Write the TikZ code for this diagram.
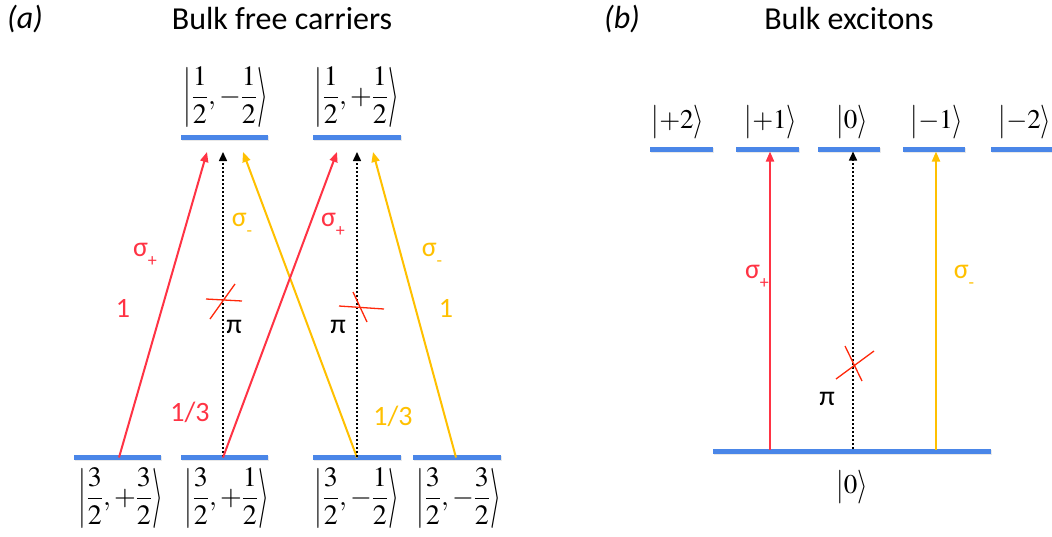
\documentclass[tikz,border=0pt]{standalone}
\usepackage{amsmath}
\usepackage{mathptmx}
\usepackage{graphicx}
\usepackage{fontspec}
\setmainfont{Carlito}
\usetikzlibrary{arrows.meta,calc,shadows}
\definecolor{barblue}{RGB}{74,134,232}
\definecolor{rd}{RGB}{255,51,68}
\definecolor{yl}{RGB}{255,192,0}
\definecolor{xr}{RGB}{255,40,10}
\newcommand{\ketfont}{\fontsize{28}{33}\selectfont}
\newcommand{\sketfont}{\fontsize{27}{32}\selectfont}
\newcommand{\labfont}{\fontsize{28}{32}\selectfont}
\newcommand{\ttlfont}{\fontsize{32}{38}\selectfont}
\newcommand{\sgp}{σ\raisebox{-0.35em}{\fontsize{18}{18}\selectfont +}}
\newcommand{\sgm}{σ\raisebox{-0.35em}{\fontsize{18}{18}\selectfont -}}
\newcommand{\stretchsym}[2]{\mathord{\vcenter{\hbox{\scalebox{1}[#1]{$#2$}}}}}
\newcommand{\fket}[1]{\stretchsym{2.15}{|}#1\stretchsym{2.15}{\rangle}}
\newcommand{\sket}[1]{\stretchsym{1.25}{|}#1\stretchsym{1.25}{\rangle}}
\tikzset{
  lvl/.style={fill=barblue, draw=none, minimum height=5pt, inner sep=0pt, outer sep=0pt,
    drop shadow={opacity=0.18, shadow xshift=0.8pt, shadow yshift=-1.5pt}},
  trans/.style={line width=2pt, -{Triangle[length=10pt,width=8pt]}},
  pitr/.style={line width=1.5pt, dash pattern=on 1.3pt off 2.7pt, -{Triangle[length=9pt,width=8pt]}},
  ket/.style={font=\ketfont, inner sep=0pt},
  sketst/.style={font=\sketfont, inner sep=0pt},
  lab/.style={font=\labfont, inner sep=0pt},
  ttl/.style={font=\ttlfont, inner sep=0pt},
  xmark/.style={draw=xr, line width=1.3pt}
}
\begin{document}
\begin{tikzpicture}[x=1pt,y=-1pt]
\useasboundingbox (0,0) rectangle (1052,536);
% titles
\node[ttl, font=\ttlfont\itshape] (pa) at (25,19) {(a)};
\node[ttl] (ta) at (282,19) {Bulk free carriers};
\node[ttl, font=\ttlfont\itshape] (pb) at (622,19) {(b)};
\node[ttl] (tb) at (849,19) {Bulk excitons};
% panel (a) levels
\node[lvl, minimum width=87pt] (t1) at (224.5,137) {};
\node[lvl, minimum width=88pt] (t2) at (357,137) {};
\node[lvl, minimum width=87pt] (g1) at (117.5,457) {};
\node[lvl, minimum width=87pt] (g2) at (224.5,457) {};
\node[lvl, minimum width=88pt] (g3) at (357,457) {};
\node[lvl, minimum width=88pt] (g4) at (457,457) {};
% kets (a)
\node[ket] (k1) at (226,97) {$\fket{\dfrac{1}{2},-\dfrac{1}{2}}$};
\node[ket] (k2) at (357,97) {$\fket{\dfrac{1}{2},{+}\dfrac{1}{2}}$};
\node[ket] (k3) at (121,498) {$\fket{\dfrac{3}{2},{+}\dfrac{3}{2}}$};
\node[ket] (k4) at (227,498) {$\fket{\dfrac{3}{2},{+}\dfrac{1}{2}}$};
\node[ket] (k5) at (357,498) {$\fket{\dfrac{3}{2},-\dfrac{1}{2}}$};
\node[ket] (k6) at (459,498) {$\fket{\dfrac{3}{2},-\dfrac{3}{2}}$};
% transitions (a)
\draw[trans, rd] ($(g1.north)+(1.5,3)$) -- ($(t1.south)+(-17.5,12.5)$);
\draw[pitr] ($(g2.north)+(-1.5,2)$) -- ($(t1.south)+(-1.5,12.5)$);
\draw[trans, yl] ($(g3.north)+(0,3)$) -- ($(t1.south)+(18.5,12.5)$);
\draw[trans, rd] ($(g2.north)+(-1.5,3)$) -- ($(t2.south)+(-20,12.5)$);
\draw[pitr] ($(g3.north)+(0,2)$) -- ($(t2.south)+(0,12.5)$);
\draw[trans, yl] ($(g4.north)+(-1,3)$) -- ($(t2.south)+(16,12.5)$);
% labels (a)
\node[lab, text=rd] (s1) at (145,255) {\sgp};
\node[lab, text=rd] (n1) at (123,308) {1};
\node[lab, text=yl] (s2) at (242,225) {\sgm};
\node[lab] (p1) at (234,327) {π};
\node[lab, text=rd] (s3) at (333,225) {\sgp};
\node[lab] (p2) at (338,327) {π};
\node[lab, text=yl] (s4) at (432,255) {\sgm};
\node[lab, text=yl] (n2) at (446,308) {1};
\node[lab, text=rd] (r1) at (190,412) {1/3};
\node[lab, text=yl] (r2) at (393,416) {1/3};
% crosses (a)
\draw[xmark] (206,299) -- (242,301);
\draw[xmark] (210,319) -- (235,284);
\draw[xmark] (339,306) -- (384,309);
\draw[xmark] (353,292) -- (367,322);
% panel (b) levels
\node[lvl, minimum width=63pt] (e2) at (681.5,149) {};
\node[lvl, minimum width=63pt] (e1) at (767.5,149) {};
\node[lvl, minimum width=62pt] (e0) at (849,149) {};
\node[lvl, minimum width=62pt] (em1) at (934,149) {};
\node[lvl, minimum width=62pt] (em2) at (1022,149) {};
\node[lvl, minimum width=278pt] (gb) at (852,451) {};
% kets (b)
\node[sketst] (q2) at (678,122) {$\sket{{+}2}$};
\node[sketst] (q1) at (771,122) {$\sket{{+}1}$};
\node[sketst] (q0) at (852,122) {$\sket{0}$};
\node[sketst] (qm1) at (937,122) {$\sket{{-}1}$};
\node[sketst] (qm2) at (1025,122) {$\sket{{-}2}$};
\node[sketst] (qg) at (852,487) {$\sket{0}$};
% transitions (b)
\draw[trans, rd] ($(gb.north)+(-82,1)$) -- ($(e1.south)+(2.5,0)$);
\draw[pitr] ($(gb.north)+(1,0)$) -- ($(e0.south)+(4,0)$);
\draw[trans, yl] ($(gb.north)+(84,1)$) -- ($(em1.south)+(2,0)$);
% labels (b)
\node[lab, text=rd] (s5) at (757,277) {\sgp};
\node[lab, text=yl] (s6) at (964,277) {\sgm};
\node[lab] (p3) at (827,399) {π};
% cross (b)
\draw[xmark] (836,379) -- (874,351);
\draw[xmark] (845,346) -- (862,381);
\end{tikzpicture}
\end{document}
